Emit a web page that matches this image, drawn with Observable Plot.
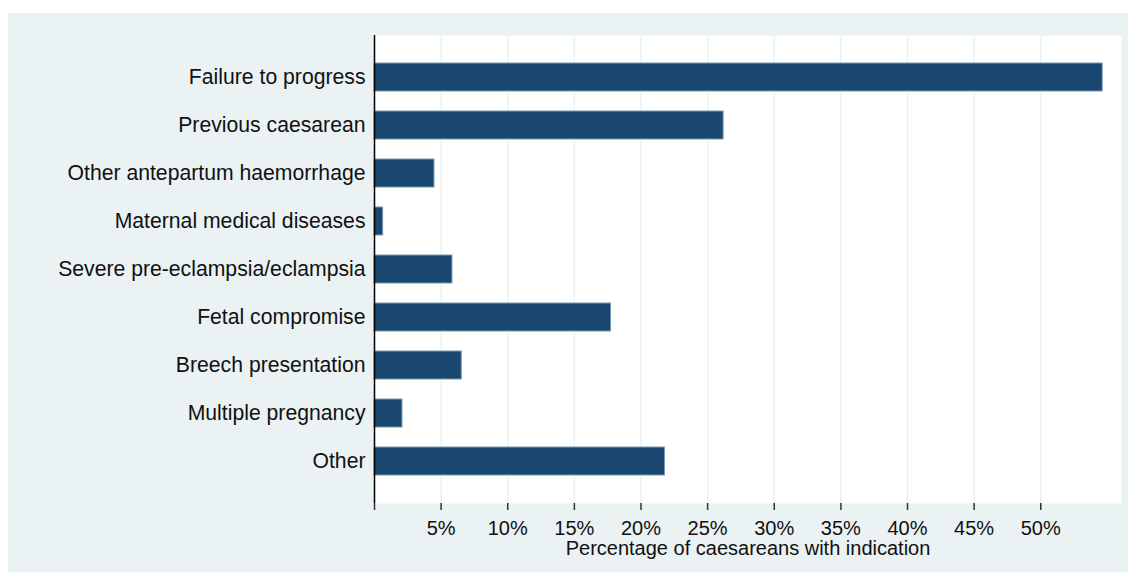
<!DOCTYPE html>
<html>
<head>
<meta charset="utf-8">
<script src="https://cdn.jsdelivr.net/npm/d3@7"></script>
<script src="https://cdn.jsdelivr.net/npm/@observablehq/plot@0.6"></script>
<style>
  html, body { margin: 0; padding: 0; background: #ffffff; }
  #wrap { padding: 13px 0 0 8px; }
  svg { display: block; }
</style>
</head>
<body>
<div id="wrap"></div>
<script>
const categories = [
  "Failure to progress",
  "Previous caesarean",
  "Other antepartum haemorrhage",
  "Maternal medical diseases",
  "Severe pre-eclampsia/eclampsia",
  "Fetal compromise",
  "Breech presentation",
  "Multiple pregnancy",
  "Other"
];
const values = [54.65, 26.2, 4.5, 0.65, 5.85, 17.75, 6.55, 2.1, 21.8];
const tickValues = [0, 5, 10, 15, 20, 25, 30, 35, 40, 45, 50];
const xMax = 56.06;
const axisTitle = "Percentage of caesareans with indication";

const data = categories.map((c, i) => ({category: c, value: values[i]}));

const chart = Plot.plot({
  width: 1120,
  height: 559,
  marginLeft: 366,
  marginTop: 22,
  marginRight: 7,
  marginBottom: 69,
  style: {background: "#eaf2f3", fontFamily: "'Liberation Sans', Arial, sans-serif", color: "#111"},
  x: {domain: [0, xMax]},
  y: {domain: categories, paddingInner: 0.42, paddingOuter: 0.53},
  marks: [
    Plot.frame({fill: "white", stroke: null}),
    Plot.gridX(tickValues, {stroke: "#eaf2f3", strokeOpacity: 1, strokeWidth: 1.5}),
    Plot.barX(data, {x: "value", y: "category", fill: "#1a476f", stroke: "#7d99b4", strokeWidth: 1, inset: 0}),
    Plot.ruleX([0], {stroke: "#000", strokeWidth: 1.5}),
    Plot.axisX({
      ticks: tickValues,
      tickFormat: d => d === 0 ? "" : d + "%",
      tickSize: 7,
      tickPadding: 10,
      fontSize: 20,
      stroke: "#333",
      strokeWidth: 1.5,
      line: true,
      label: axisTitle,
      labelAnchor: "center",
      labelArrow: "none",
      labelOffset: 51
    }),
    Plot.axisY({
      tickSize: 0,
      tickPadding: 9,
      fontSize: 21.2,
      label: null
    })
  ]
});
document.getElementById("wrap").appendChild(chart);
</script>
</body>
</html>
